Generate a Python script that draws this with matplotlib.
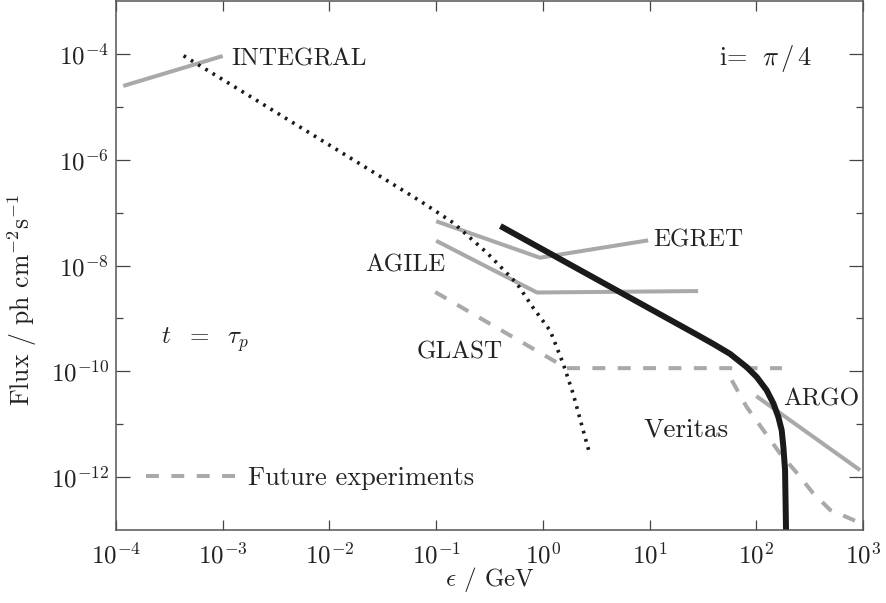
import matplotlib
matplotlib.use('Agg')
import matplotlib.pyplot as plt
from matplotlib.lines import Line2D
from matplotlib.ticker import NullLocator, NullFormatter

plt.rcParams['font.family'] = 'cmr10'
plt.rcParams['mathtext.fontset'] = 'cm'
plt.rcParams['axes.formatter.use_mathtext'] = True

# ---------------- data ----------------
integral_x = [1.17e-4, 1.0e-3]
integral_y = [2.5e-5, 9.2e-5]

egret_x = [0.10, 0.94, 9.7]
egret_y = [6.9e-8, 1.41e-8, 3.0e-8]

agile_x = [0.10, 0.88, 28.5]
agile_y = [2.95e-8, 3.1e-9, 3.3e-9]

glast_x = [0.098, 1.67, 174.0]
glast_y = [3.16e-9, 1.15e-10, 1.15e-10]

veritas_x = [58.9, 81.5, 116.0, 167.0, 240.0, 340.0, 492.0, 843.0]
veritas_y = [6.8e-11, 2.1e-11, 7.8e-12, 2.8e-12, 1.2e-12, 5.0e-13, 2.4e-13, 1.5e-13]

argo_x = [100.0, 940.0]
argo_y = [3.4e-11, 1.35e-12]

# model, low-energy component (dotted)
dot_x = [4.3e-4, 1.0e-3, 1.0e-2, 7.1e-2, 0.144, 0.30, 0.57, 0.81, 1.17, 1.55, 1.92, 2.38, 2.77]
dot_y = [9.3e-5, 3.3e-5, 1.9e-6, 1.66e-7, 6.5e-8, 1.74e-8, 4.6e-9, 1.6e-9, 5.9e-10,
         1.4e-10, 3.8e-11, 7.8e-12, 2.6e-12]

# model, high-energy component (thick solid)
model_x = [0.40, 27.7, 39.6, 56.8, 81.5, 101.0, 125.0, 145.0, 161.0,
           173.0, 179.5, 186.0, 190.0, 191.0]
model_y = [5.6e-8, 4.95e-10, 3.3e-10, 2.14e-10, 1.2e-10, 7.8e-11,
           4.4e-11, 2.45e-11, 1.37e-11, 7.7e-12, 3.7e-12, 1.36e-12, 1.0e-13, 3.0e-14]

x_ticks = [1e-4, 1e-3, 1e-2, 1e-1, 1e0, 1e1, 1e2, 1e3]
y_major = [1e-12, 1e-10, 1e-8, 1e-6, 1e-4]
y_minor = [1e-11, 1e-9, 1e-7, 1e-5]

GRAY = '#a9a9a9'
BLACK = '#1a1a1a'
TXT = '#222222'

fig = plt.figure(figsize=(8.86, 6.03), dpi=100)
ax = fig.add_axes([116/886, 1 - 530/603, 747/886, 530/603 - 0.002])
ax.set_xscale('log')
ax.set_yscale('log')
ax.set_xlim(1e-4, 1e3)
ax.set_ylim(1e-13, 1e-3)

lw_g = 2.9
ax.plot(integral_x, integral_y, color=GRAY, lw=lw_g, solid_capstyle='butt')
ax.plot(egret_x, egret_y, color=GRAY, lw=lw_g, solid_capstyle='butt')
ax.plot(agile_x, agile_y, color=GRAY, lw=lw_g, solid_capstyle='butt')
ax.plot(argo_x, argo_y, color=GRAY, lw=lw_g, solid_capstyle='butt')
ax.plot(glast_x, glast_y, color=GRAY, lw=lw_g, dashes=(3.2, 3.1))
ax.plot(veritas_x, veritas_y, color=GRAY, lw=lw_g, dashes=(3.2, 3.1))
ax.plot(dot_x, dot_y, color=BLACK, lw=2.6, dashes=(0.75, 1.6))
ax.plot(model_x, model_y, color=BLACK, lw=4.3, solid_capstyle='butt',
        solid_joinstyle='round')

# ticks
ax.set_xticks(x_ticks)
ax.xaxis.set_minor_locator(NullLocator())
ax.set_yticks(y_major)
ax.set_yticks(y_minor, minor=True)
ax.yaxis.set_minor_formatter(NullFormatter())
ax.tick_params(axis='both', which='both', direction='in', top=True, right=True,
               colors='#444444', labelcolor=TXT, width=0.9, labelsize=18)
ax.tick_params(axis='x', which='major', length=7.2, pad=9)
ax.tick_params(axis='y', which='major', length=10, pad=5)
ax.tick_params(axis='y', which='minor', length=5)
for s in ax.spines.values():
    s.set_color('#555555')
    s.set_linewidth(1.1)

# labels
fig.text(22/886, 1 - 300/603, r'Flux / ph cm$^{-2}$s$^{-1}$', rotation=90,
         ha='center', va='center', fontsize=18.5, color=TXT)
fig.text(490/886, 1 - 580/603, r'$\epsilon$ / GeV', ha='center', va='center',
         fontsize=18, color=TXT)

kw = dict(transform=ax.transAxes, va='baseline', ha='left', fontsize=18, color=TXT)
ax.text(0.154, 0.8787, 'INTEGRAL', **kw)
ax.text(0.8076, 0.8800, r'i= $\;\pi\,/\,4$', transform=ax.transAxes,
        va='baseline', ha='left', fontsize=19, color=TXT)
ax.text(0.7193, 0.5364, 'EGRET', **kw)
ax.text(0.3333, 0.4892, 'AGILE', **kw)
ax.text(0.4025, 0.3239, 'GLAST', **kw)
ax.text(0.0602, 0.3528, r'$t\ \ =\ \ \tau_p$', **kw)
ax.text(0.8925, 0.2345, 'ARGO', **kw)
ax.text(0.7068, 0.1760, 'Veritas', transform=ax.transAxes, va='baseline',
        ha='left', fontsize=19.5, color=TXT)

handle = Line2D([], [], color=GRAY, lw=lw_g, dashes=(3.2, 3.1))
ax.legend(handles=[handle], labels=['Future experiments'], loc='center left',
          bbox_to_anchor=(0.0402, 0.0975), frameon=False, borderpad=0,
          borderaxespad=0, handlelength=3.6, handletextpad=0.25, fontsize=19,
          labelcolor=TXT)

fig.savefig('out.png', dpi=100)
